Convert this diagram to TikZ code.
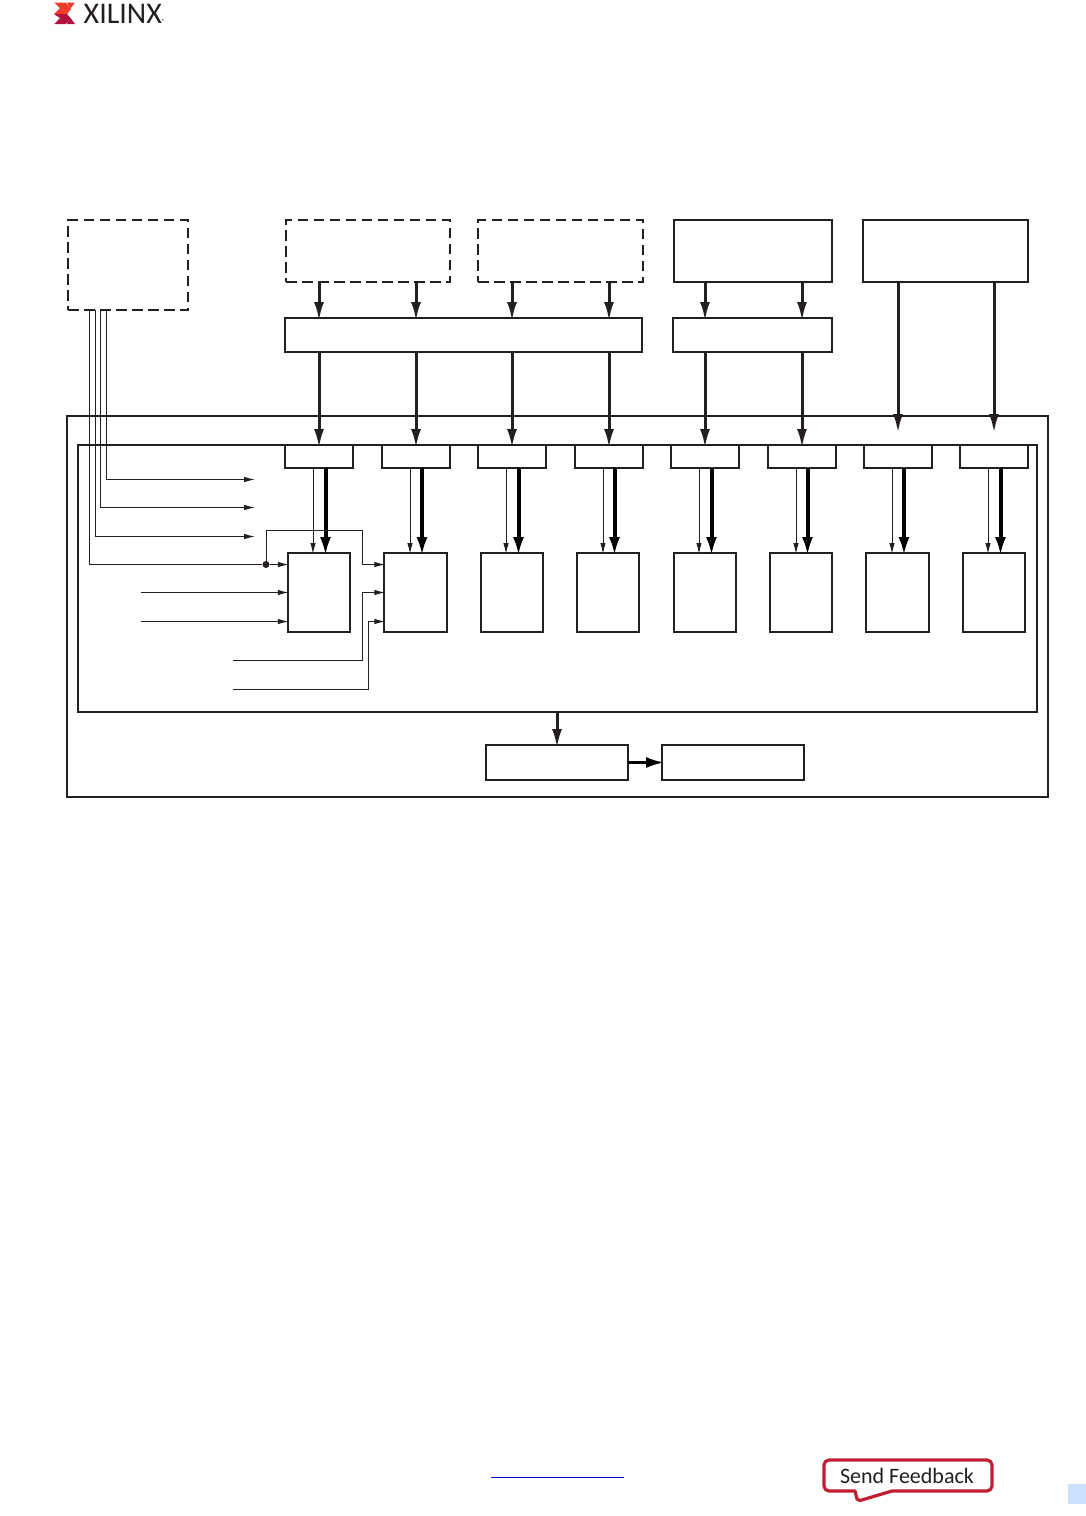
\documentclass[tikz,border=0pt]{standalone}
\usepackage{fontspec}
\setmainfont{Carlito}
\usetikzlibrary{arrows.meta}
\definecolor{inkblack}{RGB}{35,31,32}
\definecolor{xred}{RGB}{238,60,40}
\definecolor{xdark}{RGB}{178,18,62}
\definecolor{fbred}{RGB}{193,30,50}
\definecolor{pagemark}{RGB}{204,224,255}
\tikzset{
	blockbox/.style={draw=inkblack,line width=1.9pt,inner sep=0pt,outer sep=0pt,fill=none},
	dashbox/.style={blockbox,dash pattern=on 10.5pt off 5.5pt},
	tapbox/.style={blockbox,minimum width=68pt,minimum height=23pt},
	corebox/.style={blockbox,minimum width=62.5pt,minimum height=79pt},
	bus/.style={draw=inkblack,line width=3pt,shorten >=-3pt,-{Latex[length=19pt,width=10pt]}},
	busthick/.style={draw=black,line width=4pt,shorten >=-3pt,-{Latex[length=19pt,width=11pt]}},
	sig/.style={draw=inkblack,line width=1pt,shorten >=-1pt,-{Latex[length=11pt,width=5.5pt]}},
	wire/.style={draw=inkblack,line width=1pt}
}
\begin{document}
\begin{tikzpicture}[x=1pt,y=-1pt]
	\useasboundingbox (0,0) rectangle (1086,1516);
	\fill[xred] (54.5,2.5) -- (65.5,2.5) -- (71,9) -- (67,14) -- (54,14) -- (60,8) -- cycle;
	\fill[xdark] (54,14) -- (67,14) -- (71,18.5) -- (65.5,24) -- (54.5,24) -- (60,18) -- cycle;
	\fill[xred] (66.5,2.5) -- (75,2.5) -- (70.5,8.5) -- cycle;
	\fill[xdark] (66.5,24) -- (75,24) -- (70.5,18) -- cycle;
	\node[anchor=west,inner sep=0pt,text=inkblack,font=\fontsize{30}{30}\selectfont] (logo) at (83.5,13.5) {XILINX\raisebox{0pt}{\fontsize{6}{6}\selectfont ®}};

	\node[dashbox,minimum width=120pt,minimum height=90pt] (ctl) at (128,265) {};
	\node[dashbox,minimum width=164pt,minimum height=62pt] (src1) at (368,251) {};
	\node[dashbox,minimum width=165pt,minimum height=62pt] (src2) at (560.5,251) {};
	\node[blockbox,minimum width=158pt,minimum height=62pt] (src3) at (753,251) {};
	\node[blockbox,minimum width=165pt,minimum height=62pt] (src4) at (945.5,251) {};
	\node[blockbox,minimum width=357pt,minimum height=34pt] (bus1) at (463.5,335) {};
	\node[blockbox,minimum width=159pt,minimum height=34pt] (bus2) at (752.5,335) {};
	\node[blockbox,minimum width=981pt,minimum height=381pt] (outer) at (557.5,606.5) {};
	\node[blockbox,minimum width=959pt,minimum height=267pt] (inner) at (557.5,578.5) {};
	\node[blockbox,minimum width=142pt,minimum height=35pt] (out1) at (557,762.5) {};
	\node[blockbox,minimum width=142pt,minimum height=35pt] (out2) at (733,762.5) {};

	\foreach \i/\tx/\cx in {1/319/319,2/416/415.5,3/512/512,4/609/608,5/705/705,6/802/801,7/898/897.5,8/994/994} {
		\node[tapbox] (tap\i) at (\tx,456.5) {};
		\node[corebox] (core\i) at (\cx,592.5) {};
		\draw[sig] ([xshift=-6pt]tap\i.south) -- ([xshift=-6pt]tap\i.south |- core\i.north);
		\draw[busthick] ([xshift=6.5pt]core\i.north |- tap\i.south) -- ([xshift=6.5pt]core\i.north);
	}

	\foreach \i/\s/\b in {1/src1/bus1,2/src1/bus1,3/src2/bus1,4/src2/bus1,5/src3/bus2,6/src3/bus2} {
		\draw[bus] (tap\i.north |- \s.south) -- (tap\i.north |- \b.north);
		\draw[bus] (tap\i.north |- \b.south) -- (tap\i.north);
	}
	\draw[bus] (tap7.north |- src4.south) -- ([yshift=15pt]tap7.north);
	\draw[bus] (tap8.north |- src4.south) -- ([yshift=15pt]tap8.north);

	\coordinate (lane1) at (106.5,310);
	\coordinate (lane2) at (100.5,310);
	\coordinate (lane3) at (95,310);
	\coordinate (lane4) at (89.5,310);
	\coordinate (sig1) at (254,479.5);
	\coordinate (sig2) at (254,507.5);
	\coordinate (sig3) at (254,536.5);
	\coordinate (in1) at (141,592.5);
	\coordinate (in2) at (141,621.5);
	\coordinate (in3) at (233,660);
	\coordinate (in4) at (233,689);
	\coordinate (jog1) at (362.5,530.5);
	\coordinate (jog2) at (362.5,592.5);
	\coordinate (jog3) at (368.5,621.5);
	\node[circle,fill=inkblack,inner sep=0pt,minimum size=7pt] (dot) at (266,564.5) {};

	\draw[sig] (lane1) |- (sig1);
	\draw[sig] (lane2) |- (sig2);
	\draw[sig] (lane3) |- (sig3);
	\draw[wire] (lane4) |- (dot);
	\draw[sig] (dot) -- (core1.west |- dot);
	\draw[sig] (dot.center) |- (jog1) |- (core2.west |- dot);
	\draw[sig] (in1) -- (core1.west |- in1);
	\draw[sig] (in2) -- (core1.west |- in2);
	\draw[sig] (in3) -| (jog2) -- (core2.west |- jog2);
	\draw[sig] (in4) -| (jog3) -- (core2.west |- jog3);

	\draw[bus] (out1.north |- inner.south) -- (out1.north);
	\draw[busthick,line width=3.2pt] (out1.east) -- (out2.west);

	\coordinate (link1) at (491,1477);
	\coordinate (link2) at (624,1477);
	\draw[blue!90!black,line width=1pt] (link1) -- (link2);
	\draw[fbred,line width=3.2pt,line join=round,fill=white]
		(829,1460) -- (987,1460) arc[start angle=-90,end angle=0,radius=5] -- (992,1486)
		arc[start angle=0,end angle=90,radius=5] -- (892,1491) -- (860,1500.5) -- (857,1499) -- (855,1491)
		-- (829,1491) arc[start angle=90,end angle=180,radius=5] -- (824,1465) arc[start angle=180,end angle=270,radius=5] -- cycle;
	\node[inner sep=0pt,text=inkblack,font=\fontsize{22}{22}\selectfont] (feedback) at (907,1475.5) {Send Feedback};
	\fill[pagemark] (1068,1484) rectangle (1086,1504);
\end{tikzpicture}
\end{document}
